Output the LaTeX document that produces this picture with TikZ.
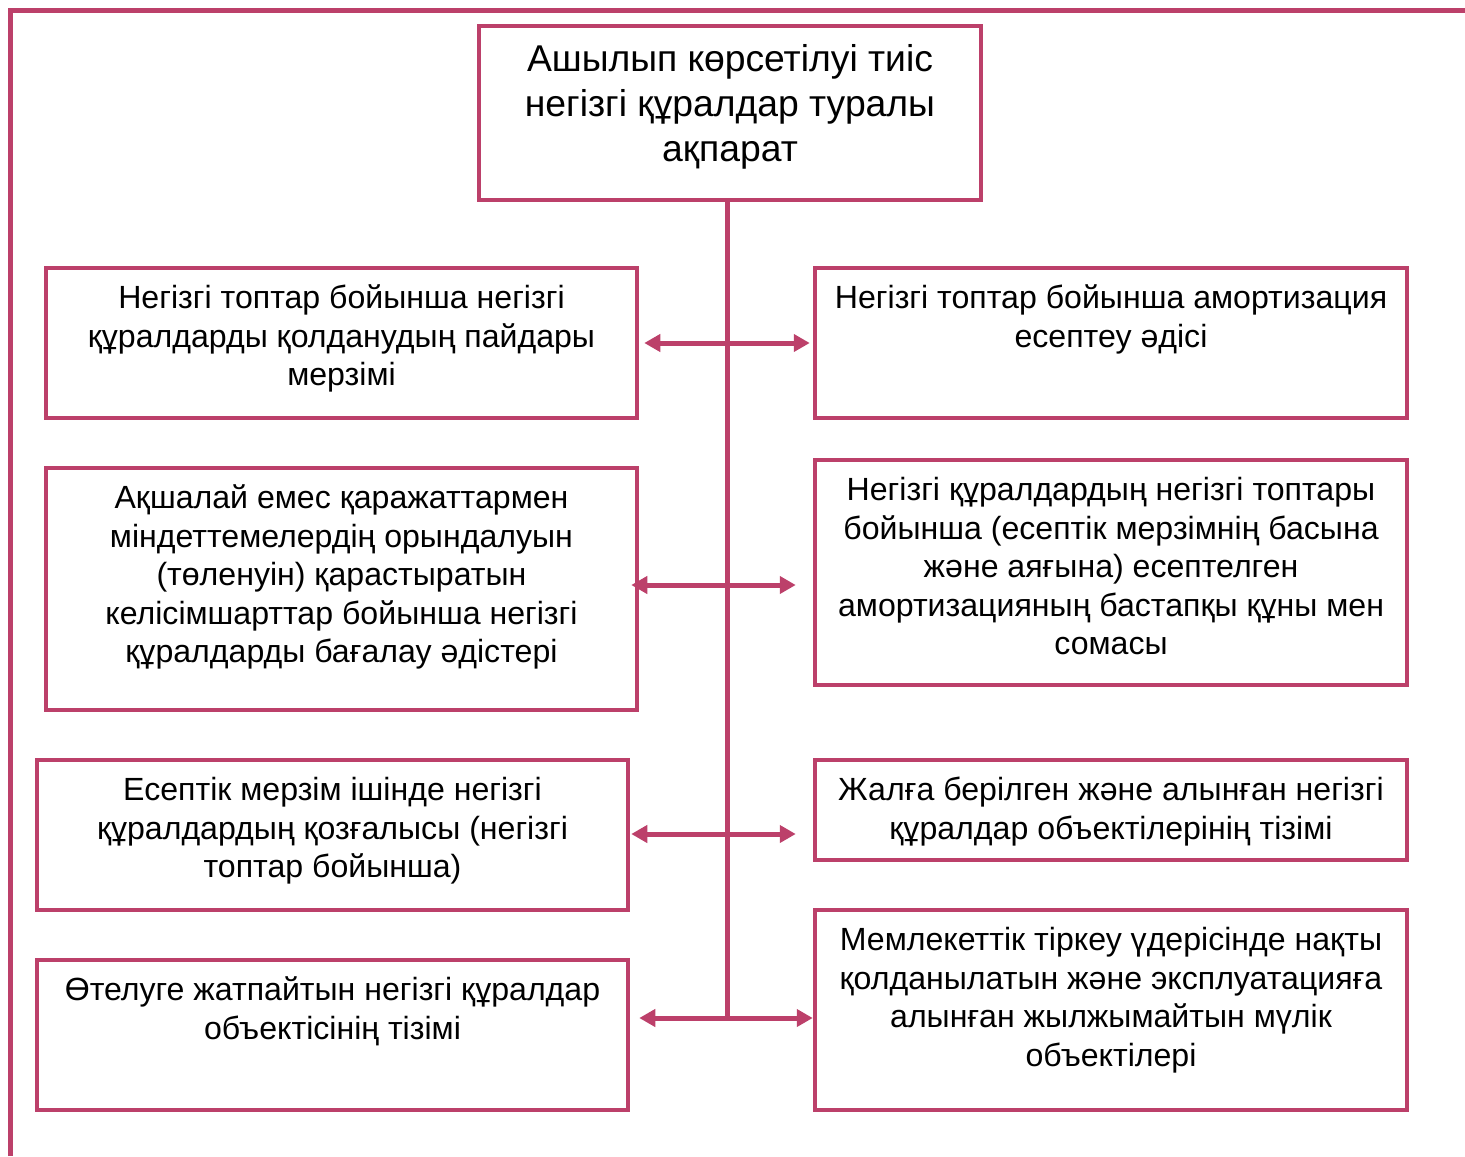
\documentclass[tikz,border=0pt]{standalone}
\usepackage{fontspec}
\setmainfont{Liberation Sans}
\usetikzlibrary{calc,arrows.meta}
\definecolor{mag}{RGB}{188,64,106}
\tikzset{
  box/.style={draw=mag, line width=2.25pt, rectangle, inner sep=0pt},
  lbl/.style={anchor=north, inner sep=0pt, align=center, font=\fontsize{16.05pt}{19.25pt}\selectfont},
  toplbl/.style={anchor=north, inner sep=0pt, align=center, font=\fontsize{18.65pt}{22.5pt}\selectfont},
  frameline/.style={draw=mag, line width=2.5pt},
  spine/.style={draw=mag, line width=2.5pt},
  dbl/.style={draw=mag, line width=2.5pt, {Triangle[length=8pt,width=8.5pt]}-{Triangle[length=8pt,width=8.5pt]}}
}
\begin{document}
\begin{tikzpicture}[x=0.5pt,y=-0.5pt]
\useasboundingbox (0,0) rectangle (1465,1156);
% outer frame
\coordinate (fA) at (10.5,1156);
\coordinate (fB) at (10.5,10.5);
\coordinate (fC) at (1465,10.5);
\draw[frameline] (fA) -- (fB) -- (fC);

% boxes
\node[box, minimum width=251pt, minimum height=87pt] (Top) at (730,113) {};
\node[box, minimum width=295.5pt, minimum height=75pt] (L1) at (341.5,343) {};
\node[box, minimum width=296pt, minimum height=75pt] (R1) at (1111,343) {};
\node[box, minimum width=295.5pt, minimum height=121pt] (L2) at (341.5,589) {};
\node[box, minimum width=296pt, minimum height=112.5pt] (R2) at (1111,572.5) {};
\node[box, minimum width=295.5pt, minimum height=75pt] (L3) at (332.5,835) {};
\node[box, minimum width=296pt, minimum height=50pt] (R3) at (1111,810) {};
\node[box, minimum width=295.5pt, minimum height=75pt] (L4) at (332.5,1035) {};
\node[box, minimum width=296pt, minimum height=100pt] (R4) at (1111,1010) {};

% texts
\node[toplbl] (tTop) at ($(Top.north)+(0,16)$) {\strut Ашылып көрсетілуі тиіс\\негізгі құралдар туралы\\ақпарат};
\node[lbl] (tL1) at ($(L1.north)+(0,15.5)$) {\strut Негізгі топтар бойынша негізгі\\құралдарды қолданудың пайдары\\мерзімі};
\node[lbl] (tR1) at ($(R1.north)+(0,15.5)$) {\strut Негізгі топтар бойынша амортизация\\есептеу әдісі};
\node[lbl] (tL2) at ($(L2.north)+(0,15.5)$) {\strut Ақшалай емес қаражаттармен\\міндеттемелердің орындалуын\\(төленуін) қарастыратын\\келісімшарттар бойынша негізгі\\құралдарды бағалау әдістері};
\node[lbl] (tR2) at ($(R2.north)+(0,15.5)$) {\strut Негізгі құралдардың негізгі топтары\\бойынша (есептік мерзімнің басына\\және аяғына) есептелген\\амортизацияның бастапқы құны мен\\сомасы};
\node[lbl] (tL3) at ($(L3.north)+(0,15.5)$) {\strut Есептік мерзім ішінде негізгі\\құралдардың қозғалысы (негізгі\\топтар бойынша)};
\node[lbl] (tR3) at ($(R3.north)+(0,15.5)$) {\strut Жалға берілген және алынған негізгі\\құралдар объектілерінің тізімі};
\node[lbl] (tL4) at ($(L4.north)+(0,15.5)$) {\strut Өтелуге жатпайтын негізгі құралдар\\объектісінің тізімі};
\node[lbl] (tR4) at ($(R4.north)+(0,15.5)$) {\strut Мемлекеттік тіркеу үдерісінде нақты\\қолданылатын және эксплуатацияға\\алынған жылжымайтын мүлік\\объектілері};

% spine
\coordinate (sEnd) at (727,1018);
\draw[spine] (Top.south -| sEnd) -- (sEnd);

% arrows
\draw[dbl] ($(L1.east)+(5,0)$) -- ($(R1.west)+(-3,0)$);
\draw[dbl] ($(L2.east)+(-8,-4)$) -- ($(R2.west)+(-17,12.5)$);
\draw[dbl] ($(L3.east)+(1,-1)$) -- ($(R3.west)+(-17,24)$);
\draw[dbl] ($(L4.east)+(9,-17)$) -- ($(R4.west)+(0,8)$);
\end{tikzpicture}
\end{document}
